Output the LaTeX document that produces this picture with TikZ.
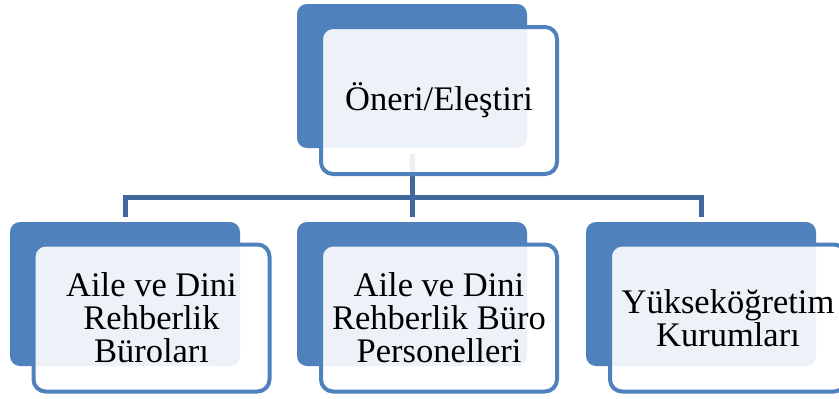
\documentclass[tikz,border=0pt]{standalone}
\usepackage{fontspec}
\setmainfont{Liberation Serif}
\definecolor{smartblue}{RGB}{79,129,189}
\definecolor{linkblue}{RGB}{65,104,155}
\tikzset{
  backbox/.style={fill=smartblue, rounded corners=10pt, inner sep=0pt,
    minimum width=230pt, minimum height=144pt},
  frontbox/.style={draw=smartblue, line width=4pt, fill=white, fill opacity=0.9,
    text opacity=1, rounded corners=12pt, inner sep=0pt, align=center,
    minimum width=236pt, minimum height=147pt,
    font=\fontsize{34.5}{33}\selectfont},
  linkline/.style={draw=linkblue, line width=5pt}
}
\begin{document}
\begin{tikzpicture}[x=1pt,y=-1pt]
      \useasboundingbox (0,0) rectangle (839,399) ;
      \clip (0,0) rectangle (839,399) ;
      % back plates
      \node[backbox] (topback) at (412,76) {} ;
      \node[backbox] (leftback) at (125,294) {} ;
      \node[backbox] (midback) at (412,294) {} ;
      \node[backbox] (rightback) at (701,294) {} ;
      % tree lines
      \coordinate (bar) at ([yshift=24pt]midback.north) ;
      \draw[linkline] ([yshift=-6pt]topback.south) -- ([yshift=5pt]midback.north) ;
      \draw[linkline] ([yshift=5pt]leftback.north) |- (bar) -| ([yshift=5pt]rightback.north) ;
      % front cards
      \node[frontbox] (top) at (439,100.5) {Öneri/Eleştiri} ;
      \node[frontbox] (left) at (151.5,318) {Aile ve Dini\\Rehberlik\\Büroları} ;
      \node[frontbox] (mid) at (439,318) {Aile ve Dini\\Rehberlik Büro\\Personelleri} ;
      \node[frontbox] (right) at (728,318) {Yükseköğretim\\Kurumları} ;
    \end{tikzpicture}
\end{document}
